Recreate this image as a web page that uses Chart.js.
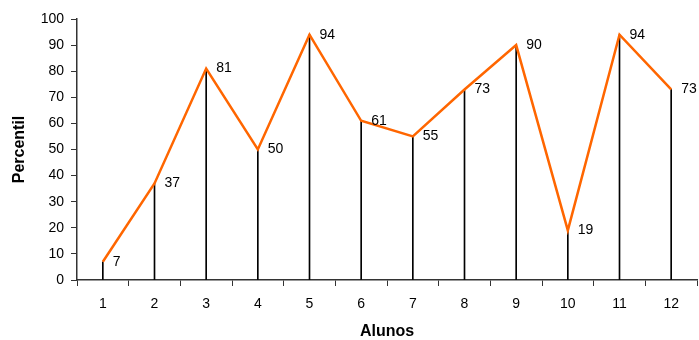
<!DOCTYPE html>
<html>
<head>
<meta charset="utf-8">
<script src="https://cdn.jsdelivr.net/npm/chart.js@4/dist/chart.umd.min.js"></script>
<style>
  html, body { margin: 0; padding: 0; background: #fff; }
  #wrap { width: 699px; height: 340px; }
</style>
</head>
<body>
<div id="wrap"><canvas id="c" width="699" height="340"></canvas></div>
<script>
// Percentil de cada aluno
const alunos = ['1', '2', '3', '4', '5', '6', '7', '8', '9', '10', '11', '12'];
const percentil = [7, 37, 81, 50, 94, 61, 55, 73, 90, 19, 94, 73];
const yTicks = [0, 10, 20, 30, 40, 50, 60, 70, 80, 90, 100];

const FONT = 'Liberation Sans, Arial, sans-serif';

// Rótulos de valor à direita de cada ponto
const valueLabels = {
  id: 'valueLabels',
  afterDatasetsDraw(chart) {
    const meta = chart.getDatasetMeta(0);
    const ctx = chart.ctx;
    ctx.save();
    ctx.font = '14px ' + FONT;
    ctx.fillStyle = '#000';
    ctx.textAlign = 'left';
    ctx.textBaseline = 'middle';
    meta.data.forEach((pt, i) => {
      ctx.fillText(String(percentil[i]), pt.x + 10, pt.y);
    });
    ctx.restore();
  }
};

new Chart(document.getElementById('c'), {
  data: {
    labels: alunos,
    datasets: [
      {
        type: 'line',
        data: percentil,
        borderColor: '#FF6600',
        borderWidth: 2.5,
        pointRadius: 0,
        tension: 0,
        order: 0
      },
      {
        type: 'bar',
        data: percentil,
        backgroundColor: '#000',
        barThickness: 1,
        order: 1
      }
    ]
  },
  options: {
    responsive: false,
    animation: false,
    devicePixelRatio: 1,
    layout: { padding: { top: 19, right: 2, left: 6, bottom: 0 } },
    plugins: {
      legend: { display: false },
      tooltip: { enabled: false }
    },
    scales: {
      x: {
        offset: true,
        afterFit(scale) { scale.height = 60; },
        grid: {
          offset: true,
          drawOnChartArea: false,
          drawTicks: true,
          tickLength: 6,
          color: '#333'
        },
        border: { color: '#333', width: 1.5 },
        ticks: { color: '#000', font: { family: FONT, size: 14 }, padding: 10, maxRotation: 0 },
        title: {
          display: true,
          text: 'Alunos',
          color: '#000',
          font: { family: FONT, size: 16, weight: 'bold' },
          padding: { top: 4, bottom: -1 }
        }
      },
      y: {
        min: 0,
        max: 100,
        afterBuildTicks(scale) {
          scale.ticks = yTicks.map(v => ({ value: v }));
        },
        afterFit(scale) { scale.width = 71; },
        grid: {
          drawOnChartArea: false,
          drawTicks: true,
          tickLength: 6,
          color: '#333'
        },
        border: { color: '#333', width: 1.5 },
        ticks: { color: '#000', font: { family: FONT, size: 14 }, padding: 7 },
        title: {
          display: true,
          text: 'Percentil',
          color: '#000',
          font: { family: FONT, size: 16, weight: 'bold' },
          padding: { top: 4, bottom: 4 }
        }
      }
    }
  },
  plugins: [valueLabels]
});
</script>
</body>
</html>
